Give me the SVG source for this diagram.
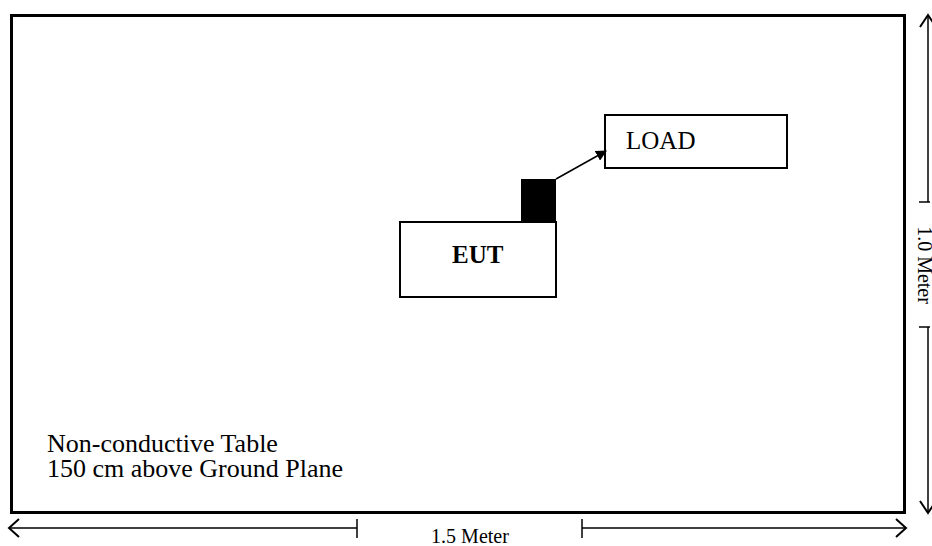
<svg xmlns="http://www.w3.org/2000/svg" width="932" height="546" viewBox="0 0 932 546">
<style>
text{font-family:"Liberation Serif","Times New Roman",serif;fill:#000}
.box{fill:#fff;stroke:#000;stroke-width:2}
.dim{stroke:#000;stroke-width:1.5;fill:none}
.open{fill:none;stroke:#000;stroke-width:2}
</style>
<defs>
<marker id="fa" viewBox="0 0 10 10" refX="9" refY="5" markerWidth="11" markerHeight="11" markerUnits="userSpaceOnUse" orient="auto"><path d="M0,0 L10,5 L0,10 z" fill="#000"/></marker>
</defs>
<rect x="0" y="0" width="932" height="546" fill="#fff"/>
<g id="table">
<rect x="11.5" y="15.5" width="893" height="497" fill="#fff" stroke="#000" stroke-width="3"/>
<text x="47" y="452" font-size="26">Non-conductive Table</text>
<text x="47" y="477" font-size="26">150 cm above Ground Plane</text>
</g>
<g id="eut">
<rect class="box" x="400" y="222" width="156" height="75"/>
<rect x="521" y="179" width="35" height="43" fill="#000"/>
<text x="452" y="263" font-size="25" font-weight="bold">EUT</text>
</g>
<g id="load">
<rect class="box" x="605" y="115" width="182" height="53"/>
<text x="626" y="149" font-size="25">LOAD</text>
</g>
<g id="connectors">
<line x1="556" y1="179" x2="606" y2="151" stroke="#000" stroke-width="1.5" marker-end="url(#fa)"/>
</g>
<g id="dimensions">
<line class="dim" x1="9" y1="528" x2="357" y2="528"/>
<line class="dim" x1="357" y1="519" x2="357" y2="538"/>
<line class="dim" x1="582" y1="528" x2="906" y2="528"/>
<line class="dim" x1="582" y1="519" x2="582" y2="538"/>
<path class="open" d="M19,519 L9,528 L19,537"/>
<path class="open" d="M896,519 L906,528 L896,537"/>
<text x="470" y="543" font-size="20" text-anchor="middle">1.5 Meter</text>
<line class="dim" x1="928" y1="16" x2="928" y2="202"/>
<line class="dim" x1="919" y1="202" x2="930" y2="202"/>
<line class="dim" x1="928" y1="327" x2="928" y2="512"/>
<line class="dim" x1="919" y1="327" x2="930" y2="327"/>
<path class="open" d="M920,27 L928,15 L936,27"/>
<path class="open" d="M920,501 L928,513 L936,501"/>
<text font-size="20" text-anchor="middle" transform="translate(918,265) rotate(90)">1.0 Meter</text>
</g>
</svg>
